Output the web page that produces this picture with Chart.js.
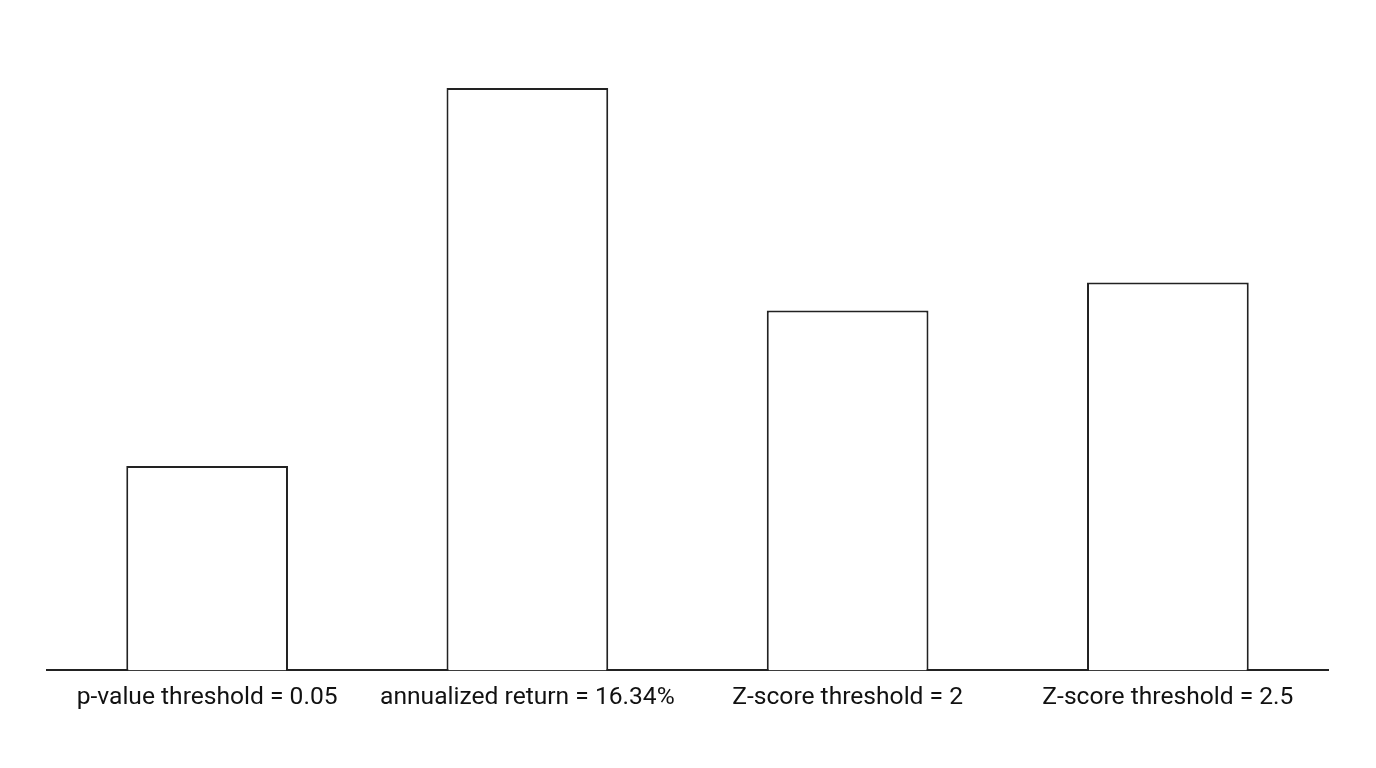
<!DOCTYPE html>
<html>
<head>
<meta charset="utf-8">
<script src="https://cdn.jsdelivr.net/npm/chart.js@4/dist/chart.umd.min.js"></script>
<style>
  html, body { margin: 0; padding: 0; background: #fff; }
  #wrap { width: 1376px; height: 768px; }
</style>
</head>
<body>
<div id="wrap"><canvas id="barChart" width="1376" height="768"></canvas></div>
<script>
// Chart data
const categories = ["p-value threshold = 0.05", "annualized return = 16.34%", "Z-score threshold = 2", "Z-score threshold = 2.5"]
const values = [20.4, 58.1, 35.9, 38.7]
const yMax = 60

document.addEventListener("DOMContentLoaded", () => {
  const ctx = document.getElementById("barChart")
  new Chart(ctx, {
    type: "bar",
    data: {
      labels: categories,
      datasets: [
        {
          data: values,
          backgroundColor: "#ffffff",
          borderColor: "#222222",
          borderWidth: 2,
          categoryPercentage: 1,
          barPercentage: 0.505,
        },
      ],
    },
    options: {
      responsive: false,
      animation: false,
      layout: { padding: { top: 69, left: 47, right: 48, bottom: 42 } },
      plugins: {
        legend: { display: false },
        tooltip: { enabled: false },
      },
      scales: {
        x: {
          grid: { display: false, drawTicks: false },
          border: { display: true, color: "#222222", width: 2 },
          ticks: {
            color: "#111111",
            padding: 13,
            maxRotation: 0,
            autoSkip: false,
            font: { family: "Roboto", size: 24.6 },
          },
        },
        y: {
          display: false,
          min: 0,
          max: yMax,
        },
      },
    },
  })
})
</script>
</body>
</html>
